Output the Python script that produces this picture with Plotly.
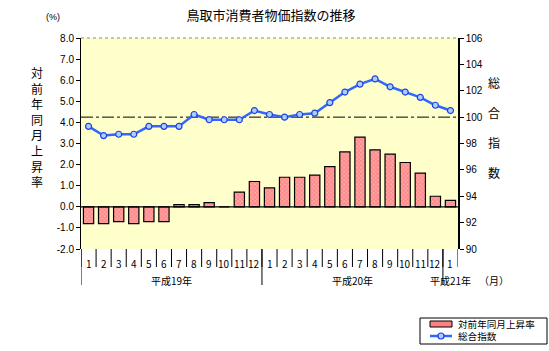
import plotly.graph_objects as go

months = ["1","2","3","4","5","6","7","8","9","10","11","12",
          "1","2","3","4","5","6","7","8","9","10","11","12","1"]
years = ["平成19年", "平成20年", "平成21年"]
year_counts = [12, 12, 1]
rate = [-0.8, -0.8, -0.7, -0.8, -0.7, -0.7, 0.1, 0.1, 0.2, 0.0, 0.7, 1.2,
        0.9, 1.4, 1.4, 1.5, 1.9, 2.6, 3.3, 2.7, 2.5, 2.1, 1.6, 0.5, 0.3]
index = [99.3, 98.6, 98.7, 98.7, 99.3, 99.3, 99.3, 100.2, 99.8, 99.8, 99.8, 100.5,
         100.2, 100.0, 100.2, 100.3, 101.1, 101.9, 102.5, 102.9, 102.3, 101.9, 101.5, 100.9, 100.5]
left_ticks = [-2, -1, 0, 1, 2, 3, 4, 5, 6, 7, 8]
right_ticks = [90, 92, 94, 96, 98, 100, 102, 104, 106]
bar_name = "対前年同月上昇率"
line_name = "総合指数"

JP = "Noto Sans CJK JP"
NUM = "Liberation Sans"
xs = list(range(len(months)))

W, H = 549, 351
L, R, T, B = 81, 91, 38, 102
pw, ph = W - L - R, H - T - B
def px(x):
    return (x - L) / pw
def py(y):
    return (H - B - y) / ph

BAR_FILL = "#FF8080"
BAR_PATTERN = dict(shape="x", size=3, fgcolor="#FF5A5A", bgcolor="#FFA8A8", solidity=0.5)
LINE_COLOR = "#3366FF"
MARK_FILL = "#A8D0FF"
MARK_EDGE = "#2040E0"

fig = go.Figure()
fig.add_trace(go.Bar(
    x=xs, y=rate, name=bar_name, width=0.68, showlegend=False,
    marker=dict(color=BAR_FILL, line=dict(color="black", width=1.2), pattern=BAR_PATTERN),
    yaxis="y",
))
fig.add_trace(go.Scatter(
    x=xs, y=index, name=line_name, mode="lines+markers", showlegend=False,
    line=dict(color=LINE_COLOR, width=2.5),
    marker=dict(size=6, color=MARK_FILL, line=dict(color=MARK_EDGE, width=1.2)),
    yaxis="y2",
))

# reference line at index 100
fig.add_shape(type="line", xref="paper", x0=0, x1=1, yref="y2", y0=100, y1=100,
              line=dict(color="black", width=1, dash="12px,3px,3px,3px"), layer="below")
# zero line
fig.add_shape(type="line", xref="paper", x0=0, x1=1, yref="y", y0=0, y1=0,
              line=dict(color="black", width=1.2))
# top dotted border
fig.add_shape(type="line", xref="paper", x0=0, x1=1, yref="paper", y0=1, y1=1,
              line=dict(color="#888888", width=1, dash="dot"))

def text(x, y, s, family=JP, size=10, xanchor="center"):
    fig.add_annotation(x=x, y=y, xref="paper", yref="paper", text=s, showarrow=False,
                       xanchor=xanchor, yanchor="middle", align="left" if xanchor == "left" else "center",
                       font=dict(family=family, size=size, color="black"))

# month separators and labels
n = len(months)
for i in range(n + 1):
    fig.add_shape(type="line", xref="x", x0=i - 0.5, x1=i - 0.5, yref="paper",
                  y0=0, y1=py(267), line=dict(color="black", width=1))
for i, m in enumerate(months):
    fig.add_annotation(x=i, y=py(263), xref="x", yref="paper", text=m, showarrow=False,
                       xanchor="center", yanchor="middle",
                       font=dict(family=JP, size=10, color="black"))

# year separators and labels
start = 0
bounds = [0]
for c in year_counts:
    start += c
    bounds.append(start)
for b in bounds[:-1]:
    fig.add_shape(type="line", xref="x", x0=b - 0.5, x1=b - 0.5, yref="paper",
                  y0=0, y1=py(285), line=dict(color="black", width=1))
for k, y in enumerate(years):
    center = (bounds[k] + bounds[k + 1] - 1) / 2
    fig.add_annotation(x=center, y=py(280), xref="x", yref="paper", text=y, showarrow=False,
                       xanchor="center", yanchor="middle",
                       font=dict(family=JP, size=10, color="black"))

text(px(494), py(280), "（月）")
text(px(53), py(17), "(%)", family=NUM, size=9)
text(px(37), py(127), "<br>".join(bar_name), size=12)
for j, ch in enumerate(line_name):
    text(px(494), py(82 + j * 30.3), ch, size=12)

# legend (drawn manually to match compact box)
fig.add_shape(type="rect", xref="paper", yref="paper", x0=px(420), x1=px(547), y0=py(318), y1=py(344),
              line=dict(color="black", width=1), fillcolor="white")
fig.add_shape(type="rect", xref="paper", yref="paper", x0=px(430), x1=px(452), y0=py(321), y1=py(327),
              line=dict(color="black", width=1), fillcolor=BAR_FILL)
fig.add_shape(type="line", xref="paper", yref="paper", x0=px(430), x1=px(452), y0=py(336), y1=py(336),
              line=dict(color=LINE_COLOR, width=2.5))
fig.add_shape(type="circle", xref="paper", yref="paper", x0=px(438), x1=px(444), y0=py(333), y1=py(339),
              line=dict(color=MARK_EDGE, width=1.2), fillcolor=MARK_FILL)
text(px(456), py(330.3), bar_name + "<br>" + line_name, size=9.6, xanchor="left")

fig.update_layout(
    width=W, height=H,
    margin=dict(l=L, r=R, t=T, b=B, autoexpand=False),
    paper_bgcolor="white", plot_bgcolor="#FFFFCC",
    showlegend=False,
    title=dict(text="鳥取市消費者物価指数の推移", x=271 / W, xanchor="center",
               y=1 - 15 / H, yanchor="middle",
               font=dict(family=JP, size=13, color="black")),
    xaxis=dict(range=[-0.5, n - 0.5], showticklabels=False, ticks="", showgrid=False,
               zeroline=False, showline=False, fixedrange=True),
    yaxis=dict(range=[-2, 8], tickvals=left_ticks, ticktext=[f"{v:.1f}" for v in left_ticks],
               showgrid=False, zeroline=False, showline=True, linecolor="black", linewidth=1,
               ticks="outside", ticklen=4, tickcolor="black",
               tickfont=dict(family=NUM, size=10, color="black")),
    yaxis2=dict(range=[90, 106], tickvals=right_ticks, overlaying="y", side="right",
                showgrid=False, zeroline=False, showline=True, linecolor="black", linewidth=1.5,
                ticks="outside", ticklen=4, tickcolor="black",
                tickfont=dict(family=NUM, size=10, color="black")),
)

fig.write_html("out.html")
